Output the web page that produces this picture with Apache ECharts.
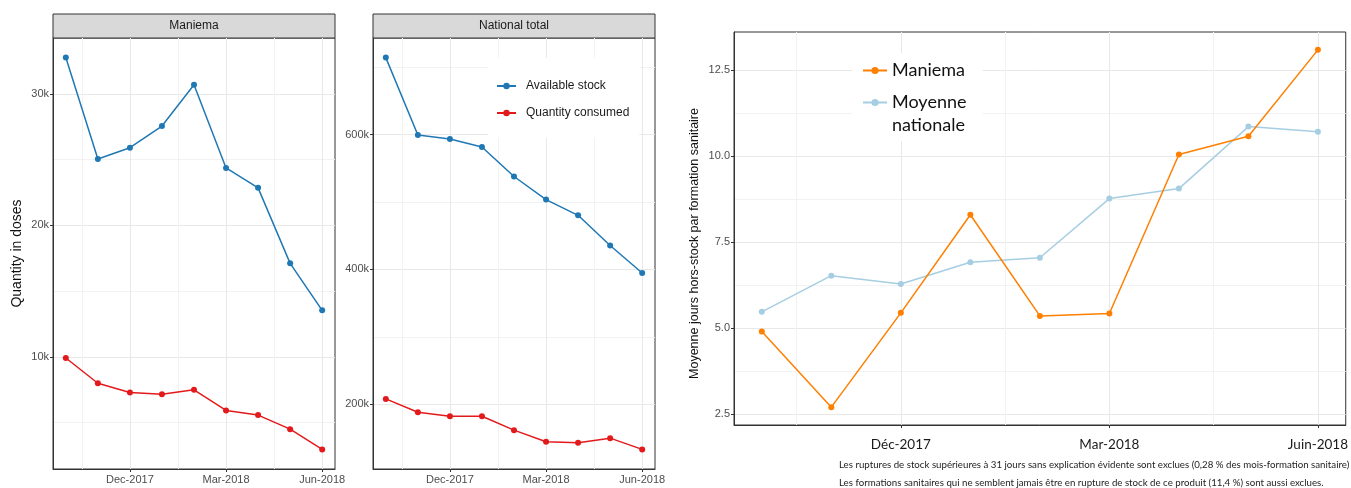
<!DOCTYPE html>
<html>
<head>
<meta charset="utf-8">
<script src="https://cdn.jsdelivr.net/npm/echarts@6/dist/echarts.min.js"></script>
<style>
  html, body { margin: 0; padding: 0; background: #fff; }
  #chart { width: 1351px; height: 488px; }
</style>
</head>
<body>
<div id="chart"></div>
<script>
// Monthly reporting periods
const months = ['2017-10', '2017-11', '2017-12', '2018-01', '2018-02', '2018-03', '2018-04', '2018-05', '2018-06'];
const tickMonths = ['2017-12', '2018-03', '2018-06'];
const stockTickLabels = ['Dec-2017', 'Mar-2018', 'Jun-2018'];
const stockoutTickLabels = ['Déc-2017', 'Mar-2018', 'Juin-2018'];

// Stock vs consumption (doses)
const maniemaStock = [32750, 25040, 25900, 27550, 30680, 24360, 22850, 17110, 13540];
const maniemaConsumed = [9920, 8000, 7300, 7170, 7500, 5930, 5580, 4510, 2970];
const nationalStock = [714500, 599500, 593600, 581800, 538000, 503700, 480400, 435600, 394700];
const nationalConsumed = [207900, 188100, 182200, 182200, 161500, 144200, 142700, 149600, 132900];

// Average stock-out days per health facility
const maniemaStockoutDays = [4.90, 2.70, 5.44, 8.29, 5.35, 5.42, 10.04, 10.57, 13.08];
const nationalStockoutDays = [5.47, 6.52, 6.28, 6.91, 7.04, 8.76, 9.05, 10.85, 10.70];

// Y tick values
const maniemaYTicks = [10000, 20000, 30000];
const nationalYTicks = [200000, 400000, 600000];
const stockoutYTicks = [2.5, 5.0, 7.5, 10.0, 12.5];

const footnotes = [
  'Les ruptures de stock supérieures à 31 jours sans explication évidente sont exclues (0,28 % des mois-formation sanitaire)',
  'Les formations sanitaires qui ne semblent jamais être en rupture de stock de ce produit (11,4 %) sont aussi exclues.'
];

const C = {
  stock: '#1f78b4', consumed: '#e31a1c',
  maniema: '#ff7f00', national: '#a6cee3',
  gridMajor: '#e8e8e8', gridMinor: '#f2f2f2',
  frame: '#333333', tickText: '#4d4d4d'
};
const SANS = '"Liberation Sans", Arial, sans-serif';
const HUMAN = 'Lato, "Open Sans", sans-serif';

// ggplot-style 5% padding around the data range
function expand(vals) {
  const lo = Math.min(...vals), hi = Math.max(...vals), pad = (hi - lo) * 0.05;
  return [lo - pad, hi + pad];
}
// Minor grid positions halfway between majors
function minorsOf(ticks, range) {
  const step = ticks[1] - ticks[0];
  const out = ticks.map(t => t - step / 2).concat([ticks[ticks.length - 1] + step / 2]);
  return out.filter(v => v > range[0] && v < range[1]);
}

const xIdx = months.map((m, i) => i);
const xRange = expand(xIdx);
const majorX = tickMonths.map(m => months.indexOf(m));
const minorX = minorsOf(majorX, xRange);

function xAxesFor(gridIndex, labels, labelStyle) {
  return [
    {
      type: 'value', gridIndex, min: xRange[0], max: xRange[1], position: 'bottom',
      axisLine: { show: true, onZero: false, lineStyle: { color: C.frame, width: 1 } },
      axisTick: { show: true, customValues: majorX, length: 3, lineStyle: { color: C.frame } },
      axisLabel: Object.assign({ customValues: majorX, formatter: v => labels[majorX.indexOf(v)] }, labelStyle),
      splitLine: { show: true, lineStyle: { color: C.gridMajor, width: 1 } }
    },
    {
      type: 'value', gridIndex, min: xRange[0], max: xRange[1], position: 'bottom',
      axisLine: { show: false, onZero: false }, axisLabel: { show: false },
      axisTick: { show: false, customValues: minorX },
      splitLine: { show: true, lineStyle: { color: C.gridMinor, width: 1 } }
    }
  ];
}
function yAxesFor(gridIndex, ticks, vals, fmt, labelStyle, extra) {
  const range = expand(vals);
  const minors = minorsOf(ticks, range);
  return [
    Object.assign({
      type: 'value', gridIndex, min: range[0], max: range[1], position: 'left',
      axisLine: { show: true, onZero: false, lineStyle: { color: C.frame, width: 1 } },
      axisTick: { show: true, customValues: ticks, length: 3, lineStyle: { color: C.frame } },
      axisLabel: Object.assign({ customValues: ticks, formatter: fmt, margin: 4 }, labelStyle),
      splitLine: { show: true, lineStyle: { color: C.gridMajor, width: 1 } }
    }, extra || {}),
    {
      type: 'value', gridIndex, min: range[0], max: range[1], position: 'left',
      axisLine: { show: false, onZero: false }, axisLabel: { show: false },
      axisTick: { show: false, customValues: minors },
      splitLine: { show: true, lineStyle: { color: C.gridMinor, width: 1 } }
    }
  ];
}

const kFmt = v => (v / 1000) + 'k';
const stockLabel = { color: C.tickText, fontSize: 11, fontFamily: SANS, margin: 5 };
const stockY = { color: C.tickText, fontSize: 11, fontFamily: SANS };
const stockoutXLabel = { color: '#1a1a1a', fontSize: 13.5, fontFamily: HUMAN, margin: 13 };

function pts(vals) { return vals.map((v, i) => [i, v]); }
function lineSeries(name, vals, color, xi, yi, size, width) {
  return {
    name, type: 'line', data: pts(vals), xAxisIndex: xi, yAxisIndex: yi,
    symbol: 'circle', symbolSize: size, showSymbol: true,
    lineStyle: { color, width }, itemStyle: { color },
    emphasis: { disabled: true }, animation: false
  };
}

const grids = [
  { left: 53, top: 38, width: 282, height: 431 },
  { left: 373, top: 38, width: 282, height: 431 },
  { left: 734, top: 32, width: 616, height: 393 }
].map(g => Object.assign({ show: true, borderColor: C.frame, borderWidth: 1, backgroundColor: '#fff' }, g));

const xAxis = [].concat(
  xAxesFor(0, stockTickLabels, stockLabel),
  xAxesFor(1, stockTickLabels, stockLabel),
  xAxesFor(2, stockoutTickLabels, stockoutXLabel)
);
const yAxis = [].concat(
  yAxesFor(0, maniemaYTicks, maniemaStock.concat(maniemaConsumed), kFmt, stockY, {
    name: 'Quantity in doses', nameLocation: 'middle', nameGap: 29,
    nameTextStyle: { color: '#111', fontSize: 14, fontFamily: SANS }
  }),
  yAxesFor(1, nationalYTicks, nationalStock.concat(nationalConsumed), kFmt, stockY),
  yAxesFor(2, stockoutYTicks, maniemaStockoutDays.concat(nationalStockoutDays), v => v.toFixed(1), stockY, {
    name: 'Moyenne jours hors-stock par formation sanitaire', nameLocation: 'middle', nameGap: 33,
    nameTextStyle: { color: '#111', fontSize: 12.5, fontFamily: SANS, padding: [0, 30, 0, 0] }
  })
);

const series = [
  lineSeries('Available stock', maniemaStock, C.stock, 0, 0, 6, 1.5),
  lineSeries('Quantity consumed', maniemaConsumed, C.consumed, 0, 0, 6, 1.5),
  lineSeries('Available stock', nationalStock, C.stock, 2, 2, 6, 1.5),
  lineSeries('Quantity consumed', nationalConsumed, C.consumed, 2, 2, 6, 1.5),
  lineSeries('Moyenne nationale', nationalStockoutDays, C.national, 4, 4, 6, 1.5),
  lineSeries('Maniema', maniemaStockoutDays, C.maniema, 4, 4, 6, 1.5)
];

// Facet strips above the two stock panels
function strip(g, label) {
  return [
    { type: 'rect', shape: { x: g.left, y: 14, width: g.width, height: 24 },
      style: { fill: '#d9d9d9', stroke: C.frame, lineWidth: 1 }, silent: true },
    { type: 'text', x: g.left + g.width / 2, y: 26,
      style: { text: label, fill: '#1a1a1a', font: '12px ' + SANS, align: 'center', verticalAlign: 'middle' }, silent: true }
  ];
}

const option = {
  backgroundColor: '#fff',
  animation: false,
  grid: grids,
  xAxis, yAxis, series,
  legend: [
    {
      data: ['Available stock', 'Quantity consumed'],
      orient: 'vertical', left: 488, top: 58,
      padding: [21, 10, 18, 8], itemGap: 13, itemWidth: 19, itemHeight: 8,
      backgroundColor: '#fff',
      textStyle: { color: '#1a1a1a', fontSize: 12, lineHeight: 14, fontFamily: SANS, padding: [0, 0, 0, 5] },
      selectedMode: false
    },
    {
      data: ['Maniema', 'Moyenne nationale'],
      orient: 'vertical', left: 852, top: 53,
      padding: [6, 16, 4, 10], itemGap: -14, itemWidth: 24, itemHeight: 9,
      backgroundColor: '#fff',
      // two-line label: the leading blank line keeps the icon level with "Moyenne"
      formatter: n => n === 'Moyenne nationale' ? '\nMoyenne\nnationale' : n,
      textStyle: { color: '#111', fontSize: 18, lineHeight: 23, fontFamily: HUMAN },
      selectedMode: false
    }
  ],
  title: footnotes.map((t, i) => ({
    text: t, left: 839, top: 460 + i * 18, padding: 0,
    textStyle: { color: '#222', fontSize: 9.7, fontWeight: 'normal', fontFamily: HUMAN }
  })),
  graphic: [].concat(strip(grids[0], 'Maniema'), strip(grids[1], 'National total'))
};

const chart = echarts.init(document.getElementById('chart'), null, { renderer: 'canvas' });
chart.setOption(option);
</script>
</body>
</html>
